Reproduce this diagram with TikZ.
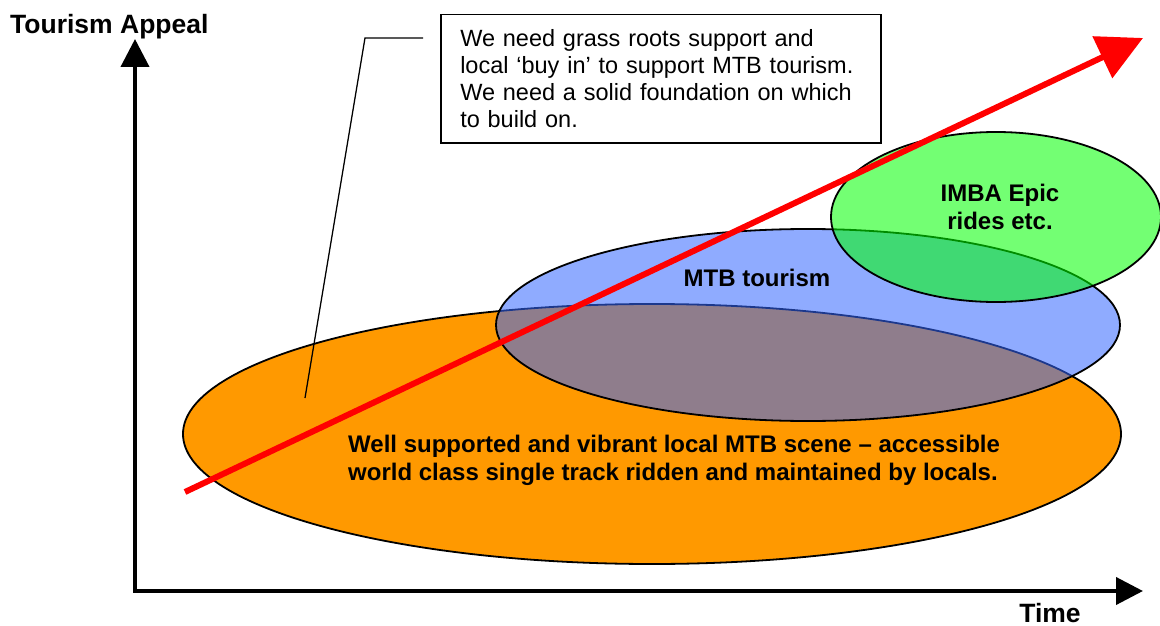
\documentclass[tikz,border=0pt]{standalone}
\usepackage{fontspec}
\setmainfont{Liberation Sans}
\usetikzlibrary{arrows.meta,shapes.geometric}
\definecolor{sceneorange}{HTML}{FF9900}
\definecolor{tourblue}{HTML}{3366FF}
\definecolor{epicgreen}{HTML}{00FF00}
\definecolor{trendred}{HTML}{FF0000}
\begin{document}
\begin{tikzpicture}[x=1pt,y=-1pt,
  blob/.style={ellipse, draw=black, line width=1.8pt, inner sep=0pt},
  axisline/.style={line width=4pt,
    {Triangle[length=28pt,width=28pt]}-{Triangle[length=27pt,width=27pt]}},
  axislabel/.style={font=\fontsize{26.5}{30}\selectfont\bfseries, inner sep=0pt},
  blobtext/.style={font=\fontsize{24}{28}\selectfont\bfseries, inner sep=0pt},
  notebox/.style={draw=black, line width=1.5pt, align=left,
    font=\fontsize{23.5}{27}\selectfont, text width=401pt,
    inner xsep=19.5pt, inner ysep=0pt, minimum height=128pt}]
\useasboundingbox (0,0) rectangle (1160,626);

% axes
\coordinate (ytop) at (135,39);
\coordinate (origin) at (135,591);
\coordinate (xend) at (1143,591);
\draw[axisline, line join=miter] (ytop) -- (origin) -- (xend);
\node[axislabel, anchor=west] (ylabel) at (10,27) {Tourism Appeal};
\node[axislabel] (xlabel) at (1050,613) {Time};

% base layer: the local scene
\node[blob, fill=sceneorange, minimum width=938pt, minimum height=260pt]
  (scene) at (652,434) {};
\node[blobtext, anchor=west, align=left] (scenetext) at (348,460)
  {Well supported and vibrant local MTB scene -- accessible\\
   world class single track ridden and maintained by locals.};

% middle layer: tourism
\node[blob, fill=tourblue, fill opacity=0.55, minimum width=624pt, minimum height=192pt]
  (tourism) at (808,325) {};
\node[blobtext] (tourismtext) at (757,278) {MTB tourism};

% top layer: epic rides
\node[blob, fill=epicgreen, fill opacity=0.55, minimum width=330pt, minimum height=170pt]
  (epic) at (996,217) {};
\node[blobtext, align=center] (epictext) at (1000,207) {IMBA Epic\\rides etc.};

% growth trend
\coordinate (trendstart) at (185,492);
\coordinate (trendend) at (1143,38);
\draw[trendred, line width=6pt, -{Triangle[length=45pt,width=45pt]}]
  (trendstart) -- (trendend);

% callout
\node[notebox, anchor=north west] (note) at (440,14)
  {We need grass roots support and\\
   local ‘buy in’ to support MTB tourism.\\
   We need a solid foundation on which\\
   to build on.};
\coordinate (leadA) at (423,38);
\coordinate (leadB) at (365,38);
\coordinate (leadC) at (305,398);
\draw[line width=1.3pt] (leadA) -- (leadB) -- (leadC);
\end{tikzpicture}
\end{document}
